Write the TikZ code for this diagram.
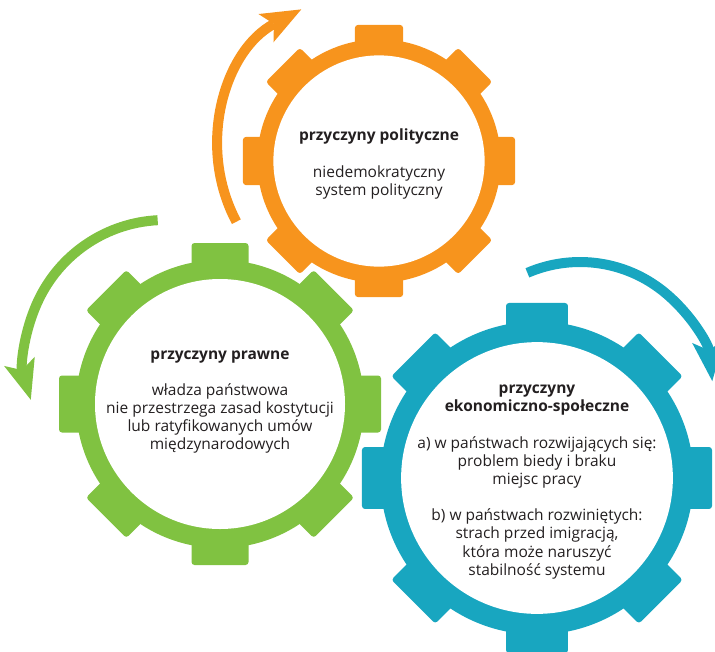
\documentclass[tikz,border=0pt]{standalone}
\usepackage{fontspec}
\setmainfont{Open Sans}
\usepackage{tikz}
\usetikzlibrary{arrows.meta}
\definecolor{gearO}{RGB}{247,148,29}
\definecolor{gearG}{RGB}{128,194,65}
\definecolor{gearB}{RGB}{24,166,192}
\definecolor{ink}{RGB}{35,31,32}
\tikzset{
  gtext/.style={align=center, text=ink, inner sep=0pt,
    font=\fontsize{15.5}{18.2}\selectfont},
  turnArrow/.style={line width=10pt,
    -{Stealth[length=40pt, width=32pt, inset=9pt, line width=0pt]}}
}
% gear: center, scale, colour
\newcommand{\DrawGear}[3]{%
  \begin{scope}[shift={#1}, scale=#2]
    \fill[#3] (0,0) circle[radius=144];
    \foreach \a in {0,45,...,315}{%
      \fill[#3, rotate=\a, rounded corners=3pt] (-28.5,136) rectangle (28.5,161);
    }%
    \fill[white] (0,0) circle[radius=125];
  \end{scope}%
}

\begin{document}
\begin{tikzpicture}[x=1pt, y=-1pt]
  \useasboundingbox (0,0) rectangle (715,651);
  % gear centres and arrow centres
  \coordinate (gO) at (379,161);
  \coordinate (gG) at (220,404);
  \coordinate (gB) at (537,478);
  \coordinate (aO) at (375,148);
  \coordinate (aG) at (165,360);
  \coordinate (aB) at (580,395);
  \DrawGear{(gO)}{0.845}{gearO}
  \DrawGear{(gG)}{1}{gearG}
  \DrawGear{(gB)}{1.087}{gearB}
  % turning arrows
  \draw[turnArrow, gearO] (aO) ++(152:157) arc[start angle=152, end angle=242, radius=157];
  \draw[turnArrow, gearG] (aG) ++(267:140) arc[start angle=267, end angle=163.5, radius=140];
  \draw[turnArrow, gearB] (aB) ++(246.7:133) arc[start angle=246.7, end angle=354, radius=133];
  % texts
  \node[gtext] (tO) at (379,164) {\textbf{przyczyny polityczne}\\[18pt]niedemokratyczny\\system polityczny};
  \node[gtext] (tG) at (220,402) {\textbf{przyczyny prawne}\\[18pt]władza państwowa\\nie przestrzega zasad kostytucji\\lub ratyfikowanych umów\\międzynarodowych};
  \node[gtext] (tB) at (537,482) {\textbf{przyczyny}\\\textbf{ekonomiczno-społeczne}\\[18pt]a) w państwach rozwijających się:\\problem biedy i braku\\miejsc pracy\\[18pt]b) w państwach rozwiniętych:\\strach przed imigracją,\\która może naruszyć\\stabilność systemu};
\end{tikzpicture}
\end{document}
